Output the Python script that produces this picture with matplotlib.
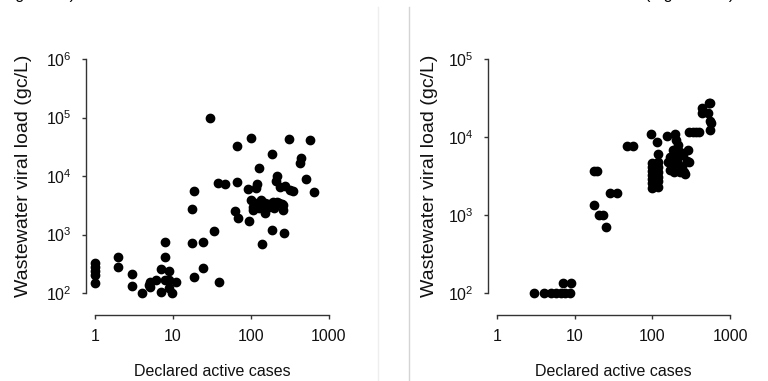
import matplotlib
matplotlib.use("Agg")
import matplotlib.pyplot as plt
from matplotlib.lines import Line2D
from matplotlib.ticker import LogLocator, NullLocator, FixedLocator, FixedFormatter

plt.rcParams['font.family'] = ['Liberation Sans', 'DejaVu Sans']
plt.rcParams['mathtext.default'] = 'regular'

# left panel: declared active cases vs wastewater viral load
cases_a = [1, 1, 1, 1, 1, 2, 2, 3, 3, 4,
           4.9, 5.1, 5, 6, 7, 7, 8, 8, 8, 9,
           9, 9, 9.8, 10.8, 17.7, 17.7, 18.8, 18.8, 24.5, 24.5,
           29.5, 34, 38.9, 37.4, 46.4, 62.4, 65.5, 65.5, 68.8, 92.5,
           95, 99, 101, 107, 107, 115, 116, 121, 128, 133,
           140, 151, 151, 172, 184, 186, 193, 209, 217, 217,
           236, 260, 260, 265, 273, 311, 316, 342, 425, 434,
           511, 575, 634, 112, 125, 145, 165, 200, 230, 250]
load_a = [330, 280, 240, 205, 147, 420, 280, 210, 133, 100,
          137, 156, 125, 167, 257, 103, 753, 407, 167, 238,
          167, 120, 100, 156, 2730, 707, 185, 5540, 753, 265,
          100000, 1165, 152, 7700, 7300, 2550, 32300, 7900, 1940, 6000,
          1700, 3890, 44600, 2990, 2630, 3160, 6320, 7200, 13800, 3890,
          690, 3410, 2360, 2990, 1190, 24000, 3630, 8200, 3630, 10100,
          6560, 3190, 2630, 1050, 6750, 43000, 5750, 5600, 16500, 20000,
          8900, 41200, 5300, 3500, 2800, 3000, 3300, 2800, 3400, 3300]

# right panel
cases_b = [3, 4, 5, 5.7, 6.6, 7.6, 8.6, 7.1, 8.9,
           18, 19.5, 17.9, 20.8, 23.4, 25, 28.5, 35, 46.7, 57,
           96, 114, 117,
           98, 98, 98, 98, 98, 98, 98,
           119, 119, 119, 119, 119, 119,
           153, 195, 204, 216, 182, 226, 250, 290, 169, 160,
           177, 216, 238, 255, 226, 298, 169, 195, 280, 260, 190, 210,
           300, 330, 360, 400,
           431, 431, 540, 560, 525, 568, 550, 560]
load_b = [100, 100, 100, 100, 100, 100, 100, 133, 133,
          3700, 3700, 1340, 1000, 1000, 710, 1900, 1900, 7680, 7680,
          10800, 8700, 6040,
          4700, 4150, 3700, 3250, 2870, 2550, 2190,
          4800, 4150, 3600, 3100, 2700, 2300,
          10300, 10800, 9100, 7900, 6800, 6500, 5880, 6800, 5580, 4820,
          4370, 4570, 4170, 3590, 3590, 4820, 3780, 5330, 4900, 3400, 3600, 5000,
          11700, 11700, 11700, 11700,
          23300, 20100, 26900, 26900, 20100, 15000, 12300, 16000]

x_ticks = [1, 10, 100, 1000]
x_labels = ['1', '10', '100', '1000']

fig = plt.figure(figsize=(7.68, 3.81), dpi=100)
W, H = 768, 381


def make_axes(left_px, width_px, ymax, label_x):
    ax = fig.add_axes([left_px / W, (H - 293) / H, width_px / W, 234 / H])
    ax.set_xscale('log')
    ax.set_yscale('log')
    ax.set_xlim(1, 1000)
    ax.set_ylim(100, ymax)
    ax.spines['top'].set_visible(False)
    ax.spines['right'].set_visible(False)
    ax.spines['left'].set_position(('outward', 6.5))
    ax.spines['bottom'].set_position(('outward', 16))
    for s in ('left', 'bottom'):
        ax.spines[s].set_color('#333333')
        ax.spines[s].set_linewidth(1.0)
    ax.xaxis.set_major_locator(FixedLocator(x_ticks))
    ax.xaxis.set_major_formatter(FixedFormatter(x_labels))
    ax.xaxis.set_minor_locator(NullLocator())
    ax.yaxis.set_major_locator(LogLocator(base=10, numticks=10))
    ax.yaxis.set_minor_locator(NullLocator())
    ax.tick_params(axis='both', which='major', length=3, width=1.0,
                   color='#333333', labelsize=11.5, labelcolor='#111111')
    ax.tick_params(axis='y', pad=7)
    ax.tick_params(axis='x', pad=7)
    ax.set_xlabel('Declared active cases', fontsize=11.5, color='#111111', labelpad=14)
    ax.set_ylabel('Wastewater viral load (gc/L)', fontsize=14, color='#111111')
    ax.yaxis.set_label_coords(label_x, 0.5)
    ax.patch.set_visible(False)
    return ax


ax1 = make_axes(95, 234, 1e6, -0.27)
ax1.plot(cases_a, load_a, 'o', color='black', ms=6, mec='black', clip_on=False)

ax2 = make_axes(497, 233, 1e5, -0.253)
ax2.plot(cases_b, load_b, 'o', color='black', ms=6, mec='black', clip_on=False)

# page separators and the cut-off line of text above the figure
fig.add_artist(Line2D([378 / W, 378 / W], [0, 1 - 7 / H], color='#eeeeee', lw=1))
fig.add_artist(Line2D([409 / W, 409 / W], [0, 1 - 7 / H], color='#d4d4d4', lw=1))
fig.text(2 / W, 1 + 1.0 / H, 'Figure 13)', fontsize=11.5, va='baseline', ha='left')
fig.text(645 / W, 1 + 1.0 / H, '(Figure S14)', fontsize=11.5, va='baseline', ha='left')

fig.savefig('out.png', dpi=100)
